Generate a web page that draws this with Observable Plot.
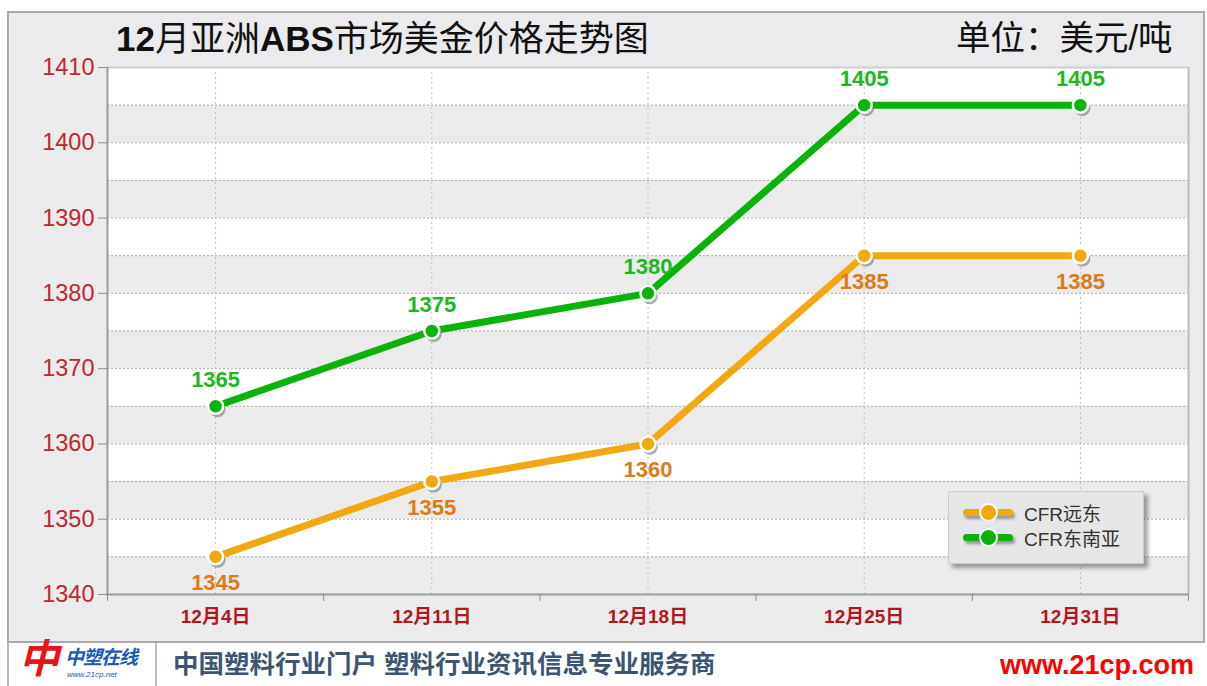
<!DOCTYPE html>
<html><head><meta charset="utf-8">
<script src="https://cdn.jsdelivr.net/npm/d3@7"></script>
<script src="https://cdn.jsdelivr.net/npm/@observablehq/plot@0.6"></script>
<style>
body{margin:0;background:#fff;font-family:"Liberation Sans",Arial,"Noto Sans CJK SC",sans-serif;}
#page{position:relative;width:1207px;height:686px;overflow:hidden;background:#fff;}
#frame{position:absolute;left:7px;top:11px;width:1194px;height:628px;background:#ebebed;border:2px solid #aaaaaa;}
#chart{position:absolute;left:0;top:0;}
#title{position:absolute;left:116px;top:21px;font-size:35px;line-height:1;color:#111;white-space:nowrap;}
#unit{position:absolute;left:956px;top:21px;font-size:34.5px;line-height:1;color:#111;white-space:nowrap;}
#legend{position:absolute;left:948px;top:491px;width:194px;height:71px;background:#e6e6e6;border:1px solid #cbcbcb;box-shadow:4px 4px 4px rgba(0,0,0,0.35);}
.li{position:absolute;left:14px;height:24px;display:flex;align-items:center;}
.sw{position:relative;width:50px;height:7px;border-radius:4px;box-shadow:2px 3px 3px rgba(0,0,0,0.35);}
.sw i{position:absolute;left:16px;top:-6px;width:15px;height:15px;border-radius:50%;border:2px solid #fff;box-sizing:content-box;}
.lt{margin-left:11px;font-size:19px;color:#333;}
#footer{position:absolute;left:0;top:643px;width:1207px;height:43px;}
#logo{position:absolute;left:7px;top:0;width:146px;height:43px;border-left:2px solid #bbb;border-right:2px solid #bbb;}
#ftext{position:absolute;left:173px;top:9px;font-size:25.5px;font-weight:bold;color:#3d5571;line-height:1;white-space:nowrap;}
#url{position:absolute;left:1000px;top:9px;font-size:27px;font-weight:bold;color:#ff0000;line-height:1;white-space:nowrap;}
</style></head>
<body>
<div id="page">
  <div id="frame"></div>
  <div id="chart"></div>
  <div id="title"><b>12</b>月亚洲<b>ABS</b>市场美金价格走势图</div>
  <div id="unit">单位：美元/吨</div>
  <div id="legend"></div>
  <div id="footer">
    <div id="logo">
      <span style="position:absolute;left:10px;top:-4px;font-size:40px;font-style:italic;font-weight:bold;color:#e8141c;line-height:1;">中</span>
      <span style="position:absolute;left:56px;top:5px;font-size:19px;font-style:italic;font-weight:bold;color:#1b58b8;line-height:1;letter-spacing:-1px;">中塑在线</span>
      <span style="position:absolute;left:58px;top:28px;font-size:8px;font-style:italic;color:#1b58b8;line-height:1;">www.21cp.net</span>
    </div>
    <div id="ftext">中国塑料行业门户 塑料行业资讯信息专业服务商</div>
    <div id="url">www.21cp.com</div>
  </div>
</div>
<script>
const dates = ["12月4日", "12月11日", "12月18日", "12月25日", "12月31日"];
const farEast = [1345, 1355, 1360, 1385, 1385];
const seAsia = [1365, 1375, 1380, 1405, 1405];
const seriesNames = ["CFR远东", "CFR东南亚"];
const seriesColors = ["#f2a911", "#0ab20a"];
const labelColors = ["#e07a14", "#1db81d"];
const labelOffsets = [26, -26];
const yTicks = [1340, 1350, 1360, 1370, 1380, 1390, 1400, 1410];
const yGrid = [1345, 1350, 1355, 1360, 1365, 1370, 1375, 1380, 1385, 1390, 1395, 1400, 1405];
const bandStarts = [1340, 1350, 1360, 1370, 1380, 1390, 1400];

const idx = dates.map((_, i) => i);
const bounds = [...idx.map(i => i - 0.5), idx.length - 0.5];
const series = [farEast, seAsia].map((vals, s) => vals.map((v, i) => ({i, v, s})));

const marks = [
  Plot.frame({fill: "white", stroke: null}),
  Plot.rect(bandStarts, {y1: d => d, y2: d => d + 5, fill: "#ebebeb"}),
  Plot.gridY(yGrid, {stroke: "#a9a9a9", strokeOpacity: 1, strokeDasharray: "2,2"}),
  Plot.gridX(idx, {stroke: "#bdbdbd", strokeOpacity: 1, strokeDasharray: "2,3"}),
  Plot.ruleY([1410], {stroke: "#cfcfcf", strokeWidth: 2}),
  Plot.ruleX([idx.length - 0.5], {stroke: "#bcbcbc", strokeWidth: 2}),
  Plot.ruleX([-0.5], {stroke: "#9c9c9c", strokeWidth: 2}),
  Plot.ruleY([1340], {stroke: "#9c9c9c", strokeWidth: 2}),
  Plot.axisY(yTicks, {tickSize: 9, tickPadding: 4, tickFormat: d => String(d), label: null, fill: "#c0262c", stroke: "#8c8c8c", fontSize: 23.5}),
  Plot.axisX(bounds, {tickSize: 7, tickFormat: () => "", label: null, stroke: "#8c8c8c"}),
  Plot.axisX(idx, {tickSize: 0, tickPadding: 15, tickFormat: i => dates[i], label: null, fill: "#b3171c", fontSize: 19, fontWeight: "bold"})
];
series.forEach(data => {
  marks.push(Plot.line(data, {x: "i", y: "v", stroke: "#000", strokeOpacity: 0.35, strokeWidth: 7, dx: 2, dy: 3, ariaLabel: "shadow"}));
  marks.push(Plot.dot(data, {x: "i", y: "v", r: 8, fill: "#000", fillOpacity: 0.3, dx: 2, dy: 3, ariaLabel: "shadow"}));
});
series.forEach((data, s) => {
  marks.push(Plot.line(data, {x: "i", y: "v", stroke: seriesColors[s], strokeWidth: 7, strokeLinejoin: "round"}));
  marks.push(Plot.dot(data, {x: "i", y: "v", r: 7.5, fill: seriesColors[s], stroke: "white", strokeWidth: 2.5}));
  marks.push(Plot.text(data, {x: "i", y: "v", text: d => String(d.v), dy: labelOffsets[s], fill: labelColors[s], fontSize: 22, fontWeight: "bold"}));
});

const chart = Plot.plot({
  width: 1207, height: 642,
  marginLeft: 107, marginRight: 19, marginTop: 67, marginBottom: 48,
  x: {domain: [-0.5, idx.length - 0.5], axis: null},
  y: {domain: [1340, 1410], axis: null},
  style: {background: "transparent", overflow: "visible", fontFamily: '"Liberation Sans", Arial, "Noto Sans CJK SC", sans-serif'},
  marks
});
const svg = d3.select(chart);
const defs = svg.insert("defs", ":first-child");
defs.append("filter").attr("id", "blur").attr("x", "-10%").attr("y", "-10%").attr("width", "120%").attr("height", "120%")
  .append("feGaussianBlur").attr("stdDeviation", 1.6);
svg.selectAll('g[aria-label="shadow"]').attr("filter", "url(#blur)");
document.getElementById("chart").appendChild(chart);

const legend = d3.select("#legend");
seriesNames.forEach((name, s) => {
  const item = legend.append("div").attr("class", "li").style("top", (8 + s * 25) + "px");
  item.append("div").attr("class", "sw").style("background", seriesColors[s])
    .append("i").style("background", seriesColors[s]);
  item.append("span").attr("class", "lt").text(name);
});
</script>
</body></html>
